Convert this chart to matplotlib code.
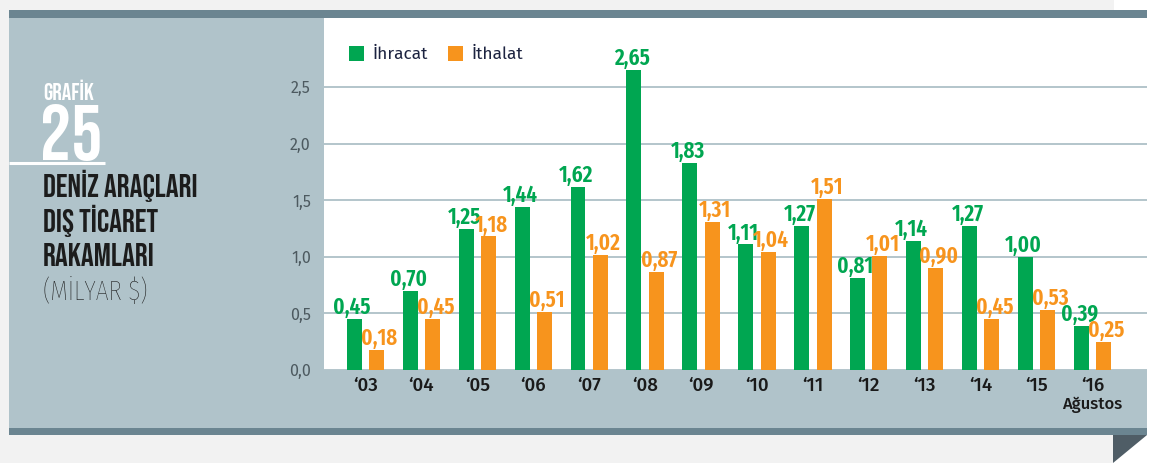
import matplotlib.pyplot as plt
from matplotlib.patches import Rectangle, Polygon
import numpy as np

# ============================
#   Donnees
# ============================

years = ["‘03", "‘04", "‘05", "‘06", "‘07", "‘08", "‘09",
         "‘10", "‘11", "‘12", "‘13", "‘14", "‘15", "‘16"]
ihracat = [0.45, 0.70, 1.25, 1.44, 1.62, 2.65, 1.83, 1.11, 1.27, 0.81, 1.14, 1.27, 1.00, 0.39]
ithalat = [0.18, 0.45, 1.18, 0.51, 1.02, 0.87, 1.31, 1.04, 1.51, 1.01, 0.90, 0.45, 0.53, 0.25]
yticks = [0.0, 0.5, 1.0, 1.5, 2.0, 2.5]

GREEN = "#00a651"
ORANGE = "#f7941d"
PANEL = "#b0c3ca"
DARK = "#6b8591"
GRID = "#aec0c7"

# polices (avec repli)
BEBAS = ["Bebas Neue", "DejaVu Sans"]
THIN = ["Fira Sans Extra Condensed", "DejaVu Sans"]
COND = ["Fira Sans Extra Condensed", "DejaVu Sans"]
FIRA = ["Fira Sans", "DejaVu Sans"]

W, H = 1150, 463
fig = plt.figure(figsize=(W / 100, H / 100), dpi=100)
fig.patch.set_facecolor("#f2f2f2")

# ============================
#   Fond (coordonnees pixels)
# ============================
bg = fig.add_axes([0, 0, 1, 1], zorder=0)
bg.set_xlim(0, W)
bg.set_ylim(H, 0)
bg.axis("off")
bg.add_patch(Rectangle((1114, 0), W - 1114, 10, color="white", lw=0))
bg.add_patch(Rectangle((9, 10), 1138, 8, color=DARK, lw=0))
bg.add_patch(Rectangle((9, 18), 1138, 410, color=PANEL, lw=0))
bg.add_patch(Rectangle((9, 428), 1138, 7, color=DARK, lw=0))
bg.add_patch(Rectangle((1147, 0), 3, H, color="white", lw=0))
bg.add_patch(Polygon([(1113, 435), (1147, 435), (1147, 463), (1113, 463)], closed=True,
                     color="white", lw=0))
bg.add_patch(Polygon([(1113, 435), (1147, 435), (1113, 463)], closed=True,
                     color="#4f5d66", lw=0))

# titre a gauche
bg.plot([9, 105], [163, 163], color="white", lw=2.2, solid_capstyle="butt")
bg.text(43, 100, "GRAFİK", color="white", family=BEBAS, fontsize=17,
        va="baseline", ha="left")
bg.text(40, 160, "25", color="white", family=BEBAS, fontsize=56,
        va="baseline", ha="left")
for txt, yb in [("DENİZ ARAÇLARI", 197), ("DIŞ TİCARET", 232), ("RAKAMLARI", 266)]:
    bg.text(43, yb, txt, color="#1c1c1c", family=BEBAS, fontsize=23,
            va="baseline", ha="left")
bg.text(43, 300, "(MİLYAR $)", color="#1c1c1c", family=THIN, weight=250,
        fontsize=20, va="baseline", ha="left")

# ============================
#   Graphique
# ============================
ax = fig.add_axes([324 / W, (H - 370) / H, 823 / W, 352 / H], zorder=1)
ax.set_facecolor("white")
x = np.arange(len(years))
bw = 0.268
off = 0.2
ax.bar(x - off, ihracat, bw, color=GREEN, zorder=3)
ax.bar(x + off, ithalat, bw, color=ORANGE, zorder=3)

for xi, v in zip(x, ihracat):
    ax.annotate(f"{v:.2f}".replace(".", ","), (xi - off, v), xytext=(-1.5, 0),
                textcoords="offset points", ha="center", va="bottom",
                color=GREEN, family=COND, weight=600, fontsize=16.5, zorder=4)
for xi, v in zip(x, ithalat):
    ax.annotate(f"{v:.2f}".replace(".", ","), (xi + off, v), xytext=(2, 0),
                textcoords="offset points", ha="center", va="bottom",
                color=ORANGE, family=COND, weight=600, fontsize=16.5, zorder=4)

ax.set_xlim(-0.742, 13.975)
ax.set_ylim(0, 3.11)
ax.set_yticks(yticks)
ax.set_yticklabels([f"{t:.1f}".replace(".", ",") for t in yticks],
                   family=FIRA, fontsize=11.5, color="#4d5a60")
ax.set_xticks(x)
ax.set_xticklabels(years, family=FIRA, fontsize=13.5, weight=500, color="#1a1a1a")
ax.tick_params(axis="both", length=0)
ax.tick_params(axis="y", pad=9.5)
ax.tick_params(axis="x", pad=5)
for s in ax.spines.values():
    s.set_visible(False)
ax.yaxis.grid(True, color=GRID, lw=1.3, zorder=0)
ax.set_axisbelow(True)

ax.text(13, -0.31, "Ağustos", transform=ax.transData, ha="center", va="center",
        family=FIRA, fontsize=12, weight=500, color="#1a1a1a")

# legende
leg_ax = fig.add_axes([0, 0, 1, 1], zorder=2)
leg_ax.set_xlim(0, W)
leg_ax.set_ylim(H, 0)
leg_ax.axis("off")
for px, col, lab in [(349, GREEN, "İhracat"), (448, ORANGE, "İthalat")]:
    leg_ax.add_patch(Rectangle((px, 46), 15, 15, color=col, lw=0))
    leg_ax.text(px + 24, 54, lab, color="#1c2340", family=FIRA, fontsize=12.5,
                va="center", ha="left")

fig.savefig("out.png", dpi=100, facecolor=fig.get_facecolor())
